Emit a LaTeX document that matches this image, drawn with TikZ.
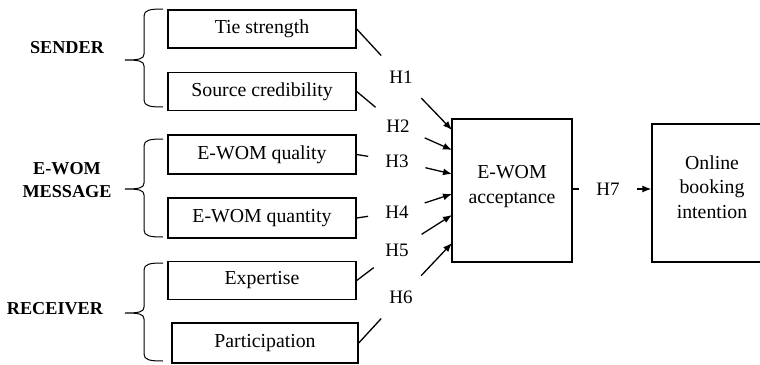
\documentclass[tikz,border=0pt]{standalone}
\usepackage{fontspec}
\setmainfont{Liberation Serif}
\usetikzlibrary{arrows.meta}

\newcommand\factorfont{\fontsize{19.8}{24.5}\selectfont}
\newcommand\hypfont{\fontsize{19}{22}\selectfont}
\newcommand\groupfont{\fontsize{18.2}{23}\selectfont\bfseries}

\tikzset{
  factor/.style={draw, line width=1.4pt, minimum width=188pt, minimum height=38pt,
    inner sep=0pt, align=center, font=\factorfont},
  boxtext/.style={align=center, font=\factorfont},
  hyp/.style={circle, minimum size=58pt, inner sep=0pt, font=\hypfont},
  grouplabel/.style={align=center, font=\groupfont},
  link/.style={line width=1.3pt},
}

\begin{document}
\begin{tikzpicture}[x=1pt, y=-1pt, >={Latex[length=9pt,width=7pt]}]
\useasboundingbox (0,0) rectangle (760,364);
\clip (0,0) rectangle (760,364);

% Antecedents
\node[factor] (tie)  at (262,29)    {Tie strength};
\node[factor] (src)  at (262,91.5)  {Source credibility};
\node[factor, minimum height=39pt] (qual) at (262,154.5) {E-WOM quality};
\node[factor, minimum height=40pt] (quan) at (262,218)   {E-WOM quantity};
\node[factor] (exp)  at (262,280.5) {Expertise};
\node[factor, minimum width=186pt, minimum height=40pt] (part) at (265,343) {Participation};

% Outcomes
\node[factor, minimum width=120pt, minimum height=143pt] (acc) at (512,190.5) {};
\node[boxtext] (acctext) at ([yshift=4pt]acc.center) {E-WOM\\acceptance};
\node[factor, minimum width=120pt, minimum height=138pt] (onl) at (712,193) {};
\node[boxtext] (onltext) at ([yshift=6pt]onl.center) {Online\\booking\\intention};

% Groups
\node[grouplabel] (sender)   at (67,48)  {SENDER};
\node[grouplabel] (message)  at (67,180) {E-WOM\\MESSAGE};
\node[grouplabel] (receiver) at (55,309) {RECEIVER};

\foreach \t/\b/\m in {9/107/60, 139/237/189, 263/361/313}
    \draw[line width=1pt] (163,\t) .. controls (150,\t) and (144,\t+1) .. (144,\t+7)
        -- (144,\m-6) .. controls (144,\m-1) and (139,\m) .. (125,\m)
        .. controls (139,\m) and (144,\m+1) .. (144,\m+6)
        -- (144,\b-7) .. controls (144,\b-1) and (150,\b) .. (163,\b);

% Hypotheses
\node[hyp] (h1) at (401,77)  {H1};
\node[hyp] (h2) at (398,126) {H2};
\node[hyp] (h3) at (397,161) {H3};
\node[hyp] (h4) at (397,212) {H4};
\node[hyp] (h5) at (397,250) {H5};
\node[hyp] (h6) at (401,297) {H6};
\node[hyp] (h7) at (608,189) {H7};

\foreach \i/\y in {1/130, 2/150, 3/174, 4/194, 5/215, 6/243}
    \coordinate (in\i) at (452,\y);

\foreach \from/\h/\to in {tie/h1/in1, src/h2/in2, qual/h3/in3, quan/h4/in4, exp/h5/in5, part/h6/in6} {
    \draw[link] (\from.east) -- (\h);
    \draw[link, ->] (\h) -- (\to);
}

\draw[link] (acc.east |- h7) -- (h7);
\draw[link, ->] (h7) -- (onl.west |- h7);
\end{tikzpicture}
\end{document}
